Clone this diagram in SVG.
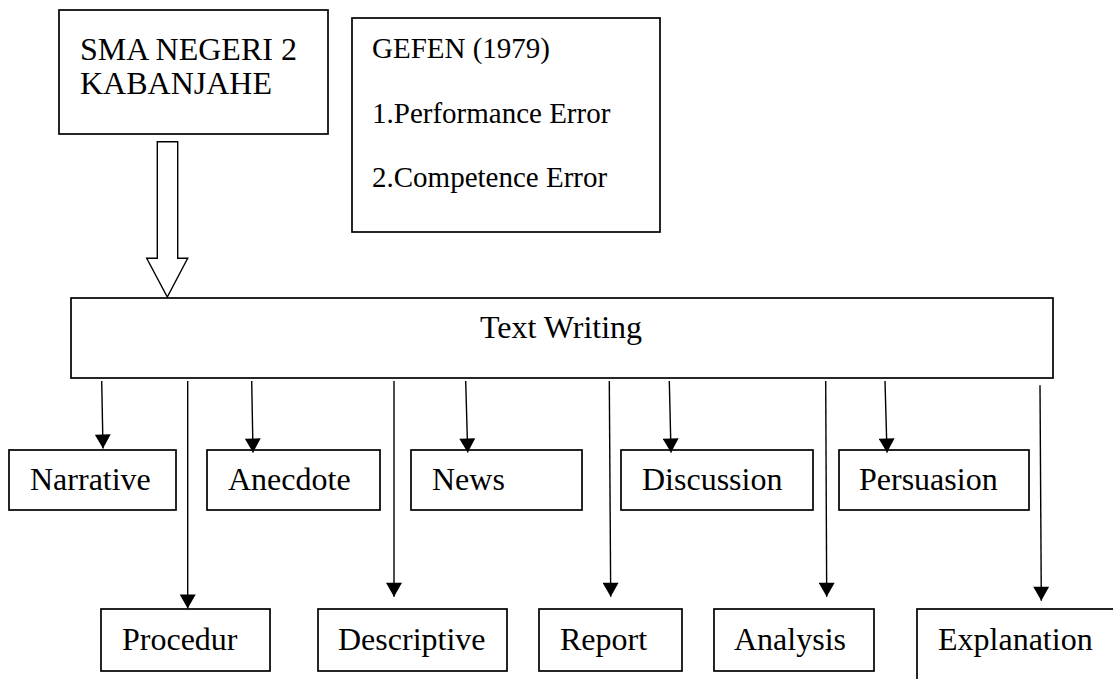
<svg xmlns="http://www.w3.org/2000/svg" width="1113" height="679" viewBox="0 0 1113 679">
<style>
.box{fill:#fff;stroke:#000;stroke-width:1.7}
.t{font-family:"Liberation Serif","Times New Roman",serif;font-size:32px;fill:#000}
.s{font-family:"Liberation Serif","Times New Roman",serif;font-size:29px;fill:#000}
.c{stroke:#000;stroke-width:1.4;fill:none;marker-end:url(#ah)}
</style>
<defs>
<marker id="ah" markerUnits="userSpaceOnUse" markerWidth="15" markerHeight="16" viewBox="0 0 14 16" refX="14" refY="8" orient="auto">
<path d="M0,0 L14,8 L0,16 Z" fill="#000"/>
</marker>
</defs>
<rect width="1113" height="679" fill="#fff"/>
<g id="sma">
<rect class="box" x="59" y="10" width="269" height="124"/>
<text class="t" x="80" y="60">SMA NEGERI 2</text>
<text class="t" x="80" y="94">KABANJAHE</text>
</g>
<g id="gefen">
<rect class="box" x="352" y="18" width="308" height="214"/>
<text class="s" x="372" y="58">GEFEN (1979)</text>
<text class="s" x="372" y="123">1.Performance Error</text>
<text class="s" x="372" y="187">2.Competence Error</text>
</g>
<g id="textwriting">
<rect class="box" x="71" y="298" width="982" height="80"/>
<text class="t" x="480" y="338">Text Writing</text>
</g>
<g id="narrative"><rect class="box" x="9" y="450" width="167" height="60"/><text class="t" x="30" y="490">Narrative</text></g>
<g id="anecdote"><rect class="box" x="207" y="450" width="173" height="60"/><text class="t" x="228" y="490">Anecdote</text></g>
<g id="news"><rect class="box" x="411" y="450" width="171" height="60"/><text class="t" x="432" y="490">News</text></g>
<g id="discussion"><rect class="box" x="621" y="450" width="192" height="60"/><text class="t" x="642" y="490">Discussion</text></g>
<g id="persuasion"><rect class="box" x="839" y="450" width="190" height="60"/><text class="t" x="859" y="490">Persuasion</text></g>
<g id="procedur"><rect class="box" x="101" y="609" width="169" height="62"/><text class="t" x="122" y="650">Procedur</text></g>
<g id="descriptive"><rect class="box" x="318" y="609" width="189" height="62"/><text class="t" x="338" y="650">Descriptive</text></g>
<g id="report"><rect class="box" x="539" y="609" width="143" height="62"/><text class="t" x="560" y="650">Report</text></g>
<g id="analysis"><rect class="box" x="714" y="609" width="160" height="62"/><text class="t" x="734" y="650">Analysis</text></g>
<g id="explanation"><rect class="box" x="917" y="609" width="250" height="120"/><text class="t" x="938" y="650">Explanation</text></g>
<g id="connectors">
<polygon points="157.3,141.7 177.7,141.7 177.7,258.3 187.7,258.3 167.3,297 146.7,258.3 157.3,258.3" fill="#fff" stroke="#000" stroke-width="1.4" stroke-linejoin="miter"/>
<line class="c" x1="101.7" y1="381" x2="103" y2="448.5"/>
<line class="c" x1="187.7" y1="381" x2="187.7" y2="608.5"/>
<line class="c" x1="251.7" y1="381" x2="253" y2="452.5"/>
<line class="c" x1="394" y1="381" x2="394" y2="596.7"/>
<line class="c" x1="465.7" y1="381" x2="467.7" y2="452.5"/>
<line class="c" x1="609.3" y1="381" x2="610.7" y2="596.7"/>
<line class="c" x1="669.3" y1="381" x2="671" y2="452.5"/>
<line class="c" x1="825.7" y1="381" x2="826.7" y2="596.7"/>
<line class="c" x1="885" y1="381" x2="887" y2="452.5"/>
<line class="c" x1="1040" y1="385.3" x2="1041.3" y2="600.7"/>
</g>
</svg>
